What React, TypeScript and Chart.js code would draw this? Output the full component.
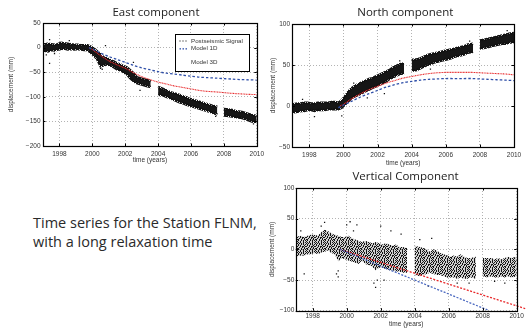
import React, { useEffect, useRef } from 'react';
import { Chart, registerables } from 'chart.js';

Chart.register(...registerables);

// ---------------- data ----------------
const YEAR_TICKS = [1998, 2000, 2002, 2004, 2006, 2008, 2010];
const EAST_Y_TICKS = [-200, -150, -100, -50, 0, 50];
const NORTH_Y_TICKS = [-50, 0, 50, 100];
const VERT_Y_TICKS = [-100, -50, 0, 50, 100];

// sample times of the observed GPS cloud; null values mark the two data gaps
const sampleTimes = [
  1997.0, 1997.3, 1997.5, 1997.7, 1997.9, 1998.1, 1998.3, 1998.5, 1998.7, 1998.9,
  1999.1, 1999.3, 1999.5, 1999.7, 1999.9, 2000.1, 2000.3, 2000.5, 2000.7, 2000.9,
  2001.1, 2001.3, 2001.5, 2001.7, 2001.9, 2002.1, 2002.3, 2002.5, 2002.7, 2002.9,
  2003.1, 2003.3, 2003.55,
  2003.8,
  2004.0, 2004.3, 2004.5, 2004.7, 2004.9, 2005.1, 2005.3, 2005.5, 2005.7, 2005.9,
  2006.1, 2006.3, 2006.5, 2006.7, 2006.9, 2007.1, 2007.3, 2007.6,
  2007.8,
  2008.0, 2008.3, 2008.5, 2008.7, 2008.9, 2009.1, 2009.3, 2009.5, 2009.7, 2010.0,
];

// East component: lower / upper edge of the observed cloud (mm)
const eastLo = [
  -6, -8, -5, -6, -4, -3, -2, -4, -3, -4, -3, -4, -5, -5, -10, -16, -24, -38, -36, -34,
  -36, -40, -44, -46, -50, -54, -62, -68, -72, -74, -76, -78, -80,
  null,
  -96, -97, -100, -102, -105, -108, -111, -113, -116, -118, -120, -122, -124, -126, -128, -130, -132, -136,
  null,
  -138, -139, -140, -141, -142, -143, -145, -148, -150, -151,
];
const eastHi = [
  6, 8, 7, 6, 7, 10, 9, 8, 7, 6, 6, 5, 5, 5, 2, -2, -8, -14, -20, -22,
  -26, -28, -32, -34, -38, -40, -46, -52, -60, -62, -64, -66, -68,
  null,
  -80, -84, -87, -90, -92, -94, -96, -99, -101, -104, -106, -108, -110, -112, -114, -116, -118, -120,
  null,
  -125, -126, -127, -129, -130, -131, -133, -135, -137, -139,
];
const eastOutX = [1997.2, 1997.4, 1997.4, 1997.7, 1998.6, 2000.5, 2000.6, 2000.8, 2002.5, 2002.9, 2007.5, 2009.8];
const eastOutY = [-15, 16, -32, -12, 14, -42, -44, 4, -30, -87, -140, -155];

const eastModel1DX = [1999.8, 2000.0, 2000.5, 2001.0, 2001.5, 2002.0, 2002.5, 2003.0, 2003.5, 2004.0, 2004.5, 2005.0, 2005.5, 2006.0, 2006.5, 2007.0, 2007.5, 2008.0, 2008.5, 2009.0, 2009.5, 2010.0];
const eastModel1DY = [0, -3, -11, -18, -24, -30, -36, -41, -45, -49, -52, -54, -56, -58, -60, -61, -62, -63, -64, -65, -65.5, -66];
const eastModel3DX = [1999.8, 2000.0, 2000.5, 2001.0, 2001.5, 2002.0, 2002.5, 2003.0, 2003.5, 2004.0, 2004.5, 2005.0, 2005.5, 2006.0, 2006.5, 2007.0, 2007.5, 2008.0, 2008.5, 2009.0, 2009.5, 2010.0];
const eastModel3DY = [0, -4, -16, -27, -35, -42, -51, -59, -65, -70, -74, -78, -81, -84, -87, -89, -90, -91.5, -93, -94, -95, -95.5];

// North component
const northLo = [
  -8, -7, -6, -6, -5, -5, -6, -5, -5, -5, -4, -4, -4, -4, -2, 2, 6, 10, 12, 14,
  16, 18, 20, 22, 24, 26, 28, 30, 33, 35, 37, 39, 40,
  null,
  43, 44, 46, 48, 50, 51, 53, 54, 55, 56, 57, 58, 60, 61, 62, 63, 65, 66,
  null,
  70, 71, 72, 73, 74, 75, 76, 76, 77, 78,
];
const northHi = [
  2, 3, 3, 4, 4, 3, 3, 4, 4, 4, 4, 5, 5, 4, 7, 12, 18, 22, 25, 27,
  29, 31, 33, 34, 36, 38, 40, 42, 44, 47, 49, 51, 52,
  null,
  56, 57, 58, 60, 62, 63, 64, 65, 66, 67, 68, 69, 70, 71, 72, 73, 75, 76,
  null,
  80, 81, 82, 83, 84, 85, 86, 87, 88, 89,
];
const northOutX = [1997.6, 1998.3, 1999.9, 2000.6, 2001.4, 2002.4, 2003.3, 2005.1, 2007.4, 2009.6];
const northOutY = [8, -13, -12, 28, 10, 15, 55, 45, 79, 92];

const northModel1DX = [1999.7, 2000.0, 2000.5, 2001.0, 2001.5, 2002.0, 2002.5, 2003.0, 2003.5, 2004.0, 2004.5, 2005.0, 2005.5, 2006.0, 2006.5, 2007.0, 2007.5, 2008.0, 2008.5, 2009.0, 2009.5, 2010.0];
const northModel1DY = [-2, 1, 6, 11, 15, 19, 23, 26, 28.5, 30, 31.5, 32.5, 33, 33.5, 33.5, 33.5, 33.5, 33, 32.5, 32, 31.5, 31];
const northModel3DX = [1999.8, 2000.0, 2000.5, 2001.0, 2001.5, 2002.0, 2002.5, 2003.0, 2003.5, 2004.0, 2004.5, 2005.0, 2005.5, 2006.0, 2006.5, 2007.0, 2007.5, 2008.0, 2008.5, 2009.0, 2009.5, 2010.0];
const northModel3DY = [0, 2, 9, 15, 20, 24, 28, 31, 34, 36, 38, 39.5, 40.5, 41, 41, 41, 41, 40.5, 40, 39.5, 39, 38];

// Vertical component
const vertLo = [
  -12, -10, -10, -8, -8, -6, -8, -5, -4, -2, -6, -8, -20, -14, -16, -18, -20, -22, -24, -18,
  -24, -26, -28, -34, -30, -30, -32, -34, -34, -36, -36, -38, -38,
  null,
  -42, -44, -42, -40, -38, -40, -42, -42, -44, -46, -46, -46, -48, -46, -48, -48, -46, -48,
  null,
  -44, -46, -44, -46, -46, -44, -46, -44, -46, -44,
];
const vertHi = [
  20, 22, 20, 22, 24, 24, 22, 28, 32, 30, 26, 24, 22, 20, 20, 22, 18, 16, 14, 12,
  14, 12, 10, 12, 10, 8, 10, 8, 6, 8, 4, 4, 2,
  null,
  6, 4, 2, 0, -4, 0, -2, -6, -8, -10, -12, -10, -12, -8, -12, -14, -14, -12,
  null,
  -14, -14, -14, -16, -14, -16, -14, -12, -14, -12,
];
const vertOutX = [1997.3, 1997.5, 1998.5, 1998.7, 1999.4, 1999.5, 1999.5, 2000.0, 2000.2, 2000.4, 2000.6, 2001.6, 2001.7, 2001.8, 2002.0, 2002.2, 2002.6, 2003.2, 2004.3, 2004.8, 2005.0, 2006.5, 2007.2, 2008.7, 2009.3];
const vertOutY = [30, -40, 38, 44, -40, -45, -35, 40, 45, 30, 40, -55, -62, -50, 38, -50, 30, 25, 16, -60, 18, -55, -55, -52, -55];

const vertModel1DX = [1999.6, 2008.3];
const vertModel1DY = [0, -99];
const vertModel3DX = [1999.6, 2010.55];
const vertModel3DY = [0, -97];

// ---------------- styling helpers ----------------
const TICK_FONT = { family: '"Liberation Sans", Arial, sans-serif', size: 6.5 };
const TEXT_GREY = '#333333';
const BLUE = '#2f4fa8';
const RED = '#e8282a';

// speckle tiles used to give the clouds a scattered-dot texture
const DENSE_TILE = [
  'x.xxx.xx',
  'xxx.xxx.',
  '.xxxx.xx',
  'xx.xxxx.',
  'xxxx.x.x',
  'x.xxxxxx',
  'xxx.x.xx',
  '.xxxxx.x',
];
const SPARSE_TILE = [
  'x..x.x.x.',
  '..x..x..x',
  'x.x..x.x.',
  '.x.x.x..x',
  'x..x.x.x.',
  'x.x...x..',
  '..x.xx.xx',
  '.x..x.x..',
  'x..x..x.x',
];

function makePattern(tile: string[], color: string): CanvasPattern | string {
  const c = document.createElement('canvas');
  c.width = tile[0].length;
  c.height = tile.length;
  const g = c.getContext('2d');
  if (!g) return color;
  g.fillStyle = color;
  tile.forEach((row, y) => row.split('').forEach((ch, x) => { if (ch === 'x') g.fillRect(x, y, 1, 1); }));
  const ctx = document.createElement('canvas').getContext('2d');
  const pat = ctx ? ctx.createPattern(c, 'repeat') : null;
  return pat || color;
}

const pts = (xs: number[], ys: (number | null)[]) => xs.map((x, i) => ({ x, y: ys[i] }));

const framePlugin = {
  id: 'frame',
  afterDatasetsDraw(chart: any) {
    const { ctx, chartArea: a } = chart;
    const xs = chart.scales.x;
    const ys = chart.scales.y;
    ctx.save();
    ctx.strokeStyle = '#000';
    ctx.lineWidth = 1;
    ctx.setLineDash([]);
    const L = 2.5;
    ctx.beginPath();
    xs.ticks.forEach((t: any) => {
      const px = Math.round(xs.getPixelForValue(t.value)) + 0.5;
      ctx.moveTo(px, a.bottom);
      ctx.lineTo(px, a.bottom - L);
      ctx.moveTo(px, a.top);
      ctx.lineTo(px, a.top + L);
    });
    ys.ticks.forEach((t: any) => {
      const py = Math.round(ys.getPixelForValue(t.value)) + 0.5;
      ctx.moveTo(a.left, py);
      ctx.lineTo(a.left + L, py);
      ctx.moveTo(a.right, py);
      ctx.lineTo(a.right - L, py);
    });
    ctx.stroke();
    ctx.lineWidth = 1.2;
    ctx.strokeRect(Math.round(a.left) + 0.5, Math.round(a.top) + 0.5, Math.round(a.right - a.left), Math.round(a.bottom - a.top));
    ctx.restore();
  },
};

const legendPlugin = {
  id: 'eastLegend',
  afterDraw(chart: any) {
    const { ctx } = chart;
    ctx.save();
    ctx.fillStyle = '#fff';
    ctx.fillRect(175, 34.5, 74, 37);
    ctx.strokeStyle = '#000';
    ctx.lineWidth = 1;
    ctx.strokeRect(175.5, 34.5, 74, 37);
    ctx.font = '6.2px "Liberation Sans", Arial, sans-serif';
    ctx.textBaseline = 'middle';
    ctx.fillStyle = TEXT_GREY;
    ctx.fillText('Postseismic Signal', 191, 40.8);
    ctx.fillText('Model 1D', 191, 48.5);
    ctx.fillText('Model 3D', 191, 62.3);
    ctx.fillStyle = '#000';
    [179.5, 182.5, 185.5].forEach((x) => ctx.fillRect(x, 40.5, 1, 1));
    ctx.fillStyle = BLUE;
    [179.5, 182.5, 185.5].forEach((x) => ctx.fillRect(x, 48.2, 1.5, 1.3));
    ctx.restore();
  },
};

type PanelProps = {
  left: number; top: number; width: number; height: number;
  padding: { left: number; right: number; top: number; bottom: number };
  yWidth: number; xHeight: number;
  yMin: number; yMax: number; yTicks: number[];
  xTickPad: number; xTitlePad: number; yTickPad: number; yTitlePad: number;
  datasets: () => any[];
  legend?: boolean;
};

function Panel(p: PanelProps) {
  const ref = useRef<HTMLCanvasElement | null>(null);
  useEffect(() => {
    if (!ref.current) return;
    const chart = new Chart(ref.current, {
      type: 'line',
      data: { datasets: p.datasets() },
      options: {
        animation: false,
        responsive: false,
        maintainAspectRatio: false,
        devicePixelRatio: 1,
        layout: { padding: p.padding, autoPadding: false } as any,
        plugins: { legend: { display: false }, tooltip: { enabled: false }, title: { display: false } },
        scales: {
          x: {
            type: 'linear',
            min: 1997,
            max: 2010,
            offset: false,
            afterBuildTicks: (s: any) => { s.ticks = YEAR_TICKS.map((v) => ({ value: v })); },
            afterFit: (s: any) => { s.height = p.xHeight; },
            ticks: {
              callback: (v: any) => String(v),
              font: TICK_FONT,
              color: TEXT_GREY,
              padding: p.xTickPad,
              maxRotation: 0,
              autoSkip: false,
            },
            grid: { color: '#a0a0a0', lineWidth: 0.8, drawTicks: false, offset: false },
            border: { display: false, dash: [1, 2] },
            title: { display: true, text: 'time (years)', font: TICK_FONT, color: TEXT_GREY, padding: { top: 0, bottom: p.xTitlePad } },
          },
          y: {
            type: 'linear',
            min: p.yMin,
            max: p.yMax,
            afterBuildTicks: (s: any) => { s.ticks = p.yTicks.map((v) => ({ value: v })); },
            afterFit: (s: any) => { s.width = p.yWidth; },
            ticks: {
              callback: (v: any) => String(v).replace('-', '\u2212'),
              font: TICK_FONT,
              color: TEXT_GREY,
              padding: p.yTickPad,
              autoSkip: false,
            },
            grid: { color: '#a0a0a0', lineWidth: 0.8, drawTicks: false },
            border: { display: false, dash: [1, 2] },
            title: { display: true, text: 'displacement (mm)', font: TICK_FONT, color: TEXT_GREY, padding: { top: p.yTitlePad, bottom: 0 } },
          },
        },
      } as any,
      plugins: p.legend ? [framePlugin, legendPlugin] : [framePlugin],
    });
    return () => chart.destroy();
  }, []);
  return (
    <canvas
      ref={ref}
      width={p.width}
      height={p.height}
      style={{ position: 'absolute', left: p.left, top: p.top, width: p.width, height: p.height }}
    />
  );
}

// the cloud: upper edge filled down to the lower edge ('+1'); edges stroked with a speckle
const cloudSets = (lo: (number | null)[], hi: (number | null)[], fillTex: any, edgeTex: any, edge: number, order: number) => [
  {
    data: pts(sampleTimes, hi),
    fill: '+1',
    backgroundColor: fillTex,
    borderColor: edgeTex,
    borderWidth: edge,
    pointRadius: 0,
    spanGaps: false,
    tension: 0,
    order: order + 1,
  },
  {
    data: pts(sampleTimes, lo),
    fill: false,
    backgroundColor: fillTex,
    borderColor: edgeTex,
    borderWidth: edge,
    pointRadius: 0,
    spanGaps: false,
    tension: 0,
    order,
  },
];
const outSet = (xs: number[], ys: number[]) => ({
  data: pts(xs, ys),
  showLine: false,
  pointRadius: 0.9,
  pointStyle: 'rect',
  pointBorderWidth: 0,
  pointBackgroundColor: '#111',
  order: 3,
});
const modelSet = (xs: number[], ys: number[], color: string, dash: number[], width: number, clip?: boolean) => ({
  data: pts(xs, ys),
  borderColor: color,
  borderWidth: width,
  borderDash: dash,
  pointRadius: 0,
  tension: 0.3,
  fill: false,
  order: 1,
  ...(clip === false ? { clip: false } : {}),
});

const titleStyle = (cx: number, cy: number): React.CSSProperties => ({
  position: 'absolute',
  left: cx - 80,
  top: cy - 9,
  width: 160,
  height: 18,
  lineHeight: '18px',
  textAlign: 'center',
  fontFamily: '"Open Sans", "Noto Sans", sans-serif',
  fontSize: 11.5,
  color: '#222',
  whiteSpace: 'nowrap',
});

export default function App() {
  useEffect(() => {
    document.body.style.margin = '0';
  }, []);
  return (
    <div style={{ position: 'relative', width: 529, height: 329, background: '#fff', overflow: 'hidden' }}>
      <Panel
        left={0} top={0} width={268} height={170}
        padding={{ left: 0, right: 4, top: 23, bottom: 4 }}
        yWidth={43} xHeight={20}
        yMin={-200} yMax={50} yTicks={EAST_Y_TICKS}
        xTickPad={4} xTitlePad={1.5} yTickPad={2.5} yTitlePad={7.5}
        legend
        datasets={() => [
          modelSet(eastModel1DX, eastModel1DY, BLUE, [2.5, 2], 1.3),
          modelSet(eastModel3DX, eastModel3DY, RED, [1, 0.6], 1.1),
          outSet(eastOutX, eastOutY),
          ...cloudSets(eastLo, eastHi, '#161616', makePattern(DENSE_TILE, '#111'), 2.5, 4),
        ]}
      />
      <Panel
        left={262} top={0} width={267} height={170}
        padding={{ left: 0, right: 15, top: 24, bottom: 3 }}
        yWidth={30.3} xHeight={20}
        yMin={-50} yMax={100} yTicks={NORTH_Y_TICKS}
        xTickPad={4} xTitlePad={0} yTickPad={2.3} yTitlePad={7.8}
        datasets={() => [
          modelSet(northModel1DX, northModel1DY, BLUE, [2.5, 2], 1.3),
          modelSet(northModel3DX, northModel3DY, RED, [1, 0.6], 1.1),
          outSet(northOutX, northOutY),
          ...cloudSets(northLo, northHi, '#161616', makePattern(DENSE_TILE, '#111'), 2.5, 4),
        ]}
      />
      <Panel
        left={262} top={168} width={267} height={161}
        padding={{ left: 0, right: 12.3, top: 20, bottom: 1.1 }}
        yWidth={33.7} xHeight={17.2}
        yMin={-100} yMax={100} yTicks={VERT_Y_TICKS}
        xTickPad={1.5} xTitlePad={0} yTickPad={1.4} yTitlePad={6.4}
        datasets={() => [
          modelSet(vertModel1DX, vertModel1DY, '#4a68c0', [2, 1.5], 1.3),
          modelSet(vertModel3DX, vertModel3DY, RED, [2, 1.5], 1.3, false),
          outSet(vertOutX, vertOutY),
          ...cloudSets(vertLo, vertHi, makePattern(SPARSE_TILE, '#151515'), 'rgba(0,0,0,0)', 1, 4),
          ...cloudSets(vertLo, vertHi, 'rgba(40,40,40,0.22)', 'rgba(0,0,0,0)', 1, 6),
        ]}
      />
      <div style={titleStyle(156, 11.7)}>East component</div>
      <div style={titleStyle(405.3, 11.7)}>North component</div>
      <div style={titleStyle(405.5, 175.7)}>Vertical Component</div>
      <div
        style={{
          position: 'absolute',
          left: 33,
          top: 212.5,
          fontFamily: '"Open Sans", "Noto Sans", sans-serif',
          fontSize: 14.5,
          lineHeight: '19px',
          color: '#2a2a2a',
          whiteSpace: 'nowrap',
        }}
      >
        Time series for the Station FLNM,
        <br />
        with a long relaxation time
      </div>
    </div>
  );
}
